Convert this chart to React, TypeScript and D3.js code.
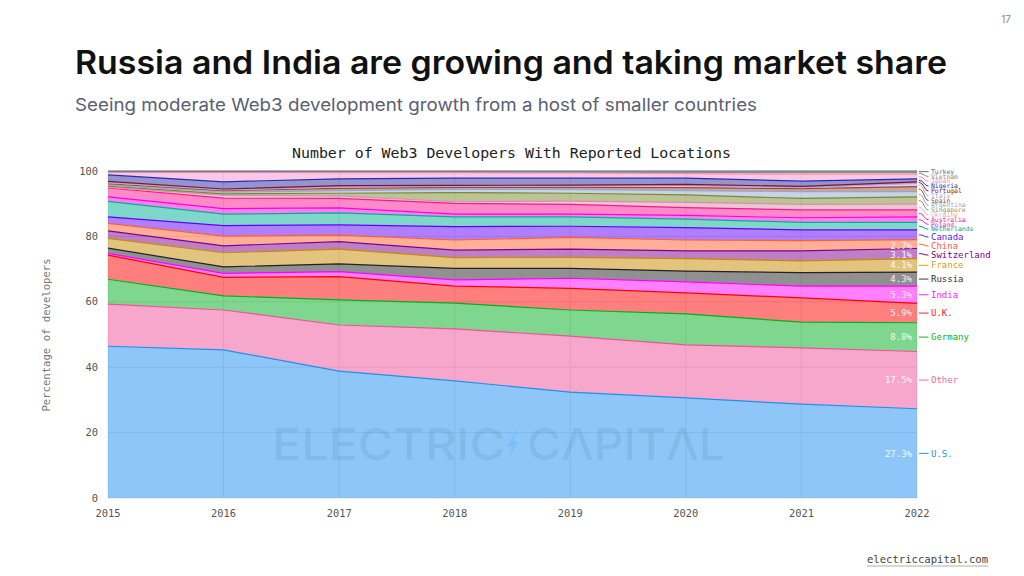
import React from 'react';
import * as d3 from 'd3';

const years = [2015, 2016, 2017, 2018, 2019, 2020, 2021, 2022];
const countries = ['U.S.', 'Other', 'Germany', 'U.K.', 'India', 'Russia', 'France', 'Switzerland', 'China', 'Canada', 'Netherlands', 'Poland', 'Australia', 'Ukraine', 'Singapore', 'Argentina', 'Spain', 'Italy', 'Portugal', 'Nigeria', 'Japan', 'Vietnam', 'Turkey'];

const us = [46.4, 45.3, 38.8, 35.8, 32.4, 30.6, 28.7, 27.3];
const other = [12.9, 12.2, 14.1, 15.9, 17.1, 16.2, 17.2, 17.5];
const germany = [7.6, 4.3, 7.7, 7.9, 8.0, 9.5, 7.9, 8.8];
const uk = [7.4, 5.7, 7.1, 5.2, 6.6, 6.4, 7.4, 5.9];
const india = [0.5, 1.2, 1.5, 1.9, 3.1, 3.4, 3.6, 5.3];
const russia = [1.6, 2.0, 2.4, 3.5, 3.0, 3.3, 4.1, 4.3];
const france = [3.0, 4.3, 4.5, 3.3, 3.4, 3.8, 3.6, 4.1];
const switzerland = [2.3, 2.1, 2.3, 2.3, 2.5, 2.4, 3.1, 3.1];
const china = [2.3, 3.0, 2.0, 3.1, 3.6, 3.3, 3.1, 2.7];
const canada = [2.0, 3.2, 3.1, 4.1, 3.4, 3.8, 3.3, 3.0];
const netherlands = [4.7, 3.5, 3.7, 3.0, 2.9, 2.6, 2.3, 2.3];
const poland = [1.4, 1.7, 1.5, 0.8, 0.8, 1.1, 1.4, 1.7];
const australia = [2.7, 3.2, 2.9, 3.3, 3.0, 2.4, 2.4, 2.1];
const ukraine = [0.2, 0.9, 0.8, 0.5, 1.0, 1.6, 1.7, 1.8];
const singapore = [0.4, 0.4, 0.8, 2.8, 2.4, 2.3, 1.8, 2.2];
const argentina = [0.3, 0.5, 0.8, 1.0, 1.2, 1.3, 2.1, 1.6];
const spain = [0.4, 0.5, 0.7, 0.6, 0.6, 0.9, 0.9, 1.5];
const italy = [0.3, 0.2, 0.4, 0.3, 0.4, 0.6, 0.3, 1.0];
const portugal = [0.4, 0.3, 0.4, 0.3, 0.3, 0.4, 0.4, 0.5];
const nigeria = [2.0, 2.2, 2.1, 2.2, 2.1, 1.9, 1.6, 0.9];
const japan = [0.8, 2.9, 1.9, 1.7, 1.6, 1.4, 2.1, 1.4];
const vietnam = [0.2, 0.2, 0.3, 0.3, 0.3, 0.4, 0.6, 0.6];
const turkey = [0.2, 0.2, 0.2, 0.2, 0.3, 0.4, 0.4, 0.4];

const seriesValues = [us, other, germany, uk, india, russia, france, switzerland, china, canada, netherlands, poland, australia, ukraine, singapore, argentina, spain, italy, portugal, nigeria, japan, vietnam, turkey];

const yTicks = [0, 20, 40, 60, 80, 100];

const colors = ['#1e90f0', '#f2509a', '#00b020', '#ff0000', '#ff00ff', '#222222', '#c88a00', '#800090', '#ff6030', '#6000ff', '#00b096', '#ff00e0', '#ff1493', '#d890a8', '#7a8a30', '#90a8d0', '#a04a2a', '#b8a0f8', '#801818', '#2a2aa8', '#f590d0', '#a08c60', '#5a6e90'];
const labelColors = ['#1e90f0', '#f06aa0', '#10b020', '#ff2020', '#ff20ff', '#333333', '#d4a020', '#800090', '#ff6030', '#6020ff', '#00a090', '#ff20c0', '#ff2080', '#e0a8b8', '#909068', '#90a8c8', '#a04820', '#b0a0f0', '#802020', '#3030a0', '#f090c0', '#a08868', '#5a6b8c'];

const MONO = '"DejaVu Sans Mono", "Liberation Mono", monospace';
const SANS = 'Inter, "Noto Sans", sans-serif';

export default function App() {
  const x = d3.scaleLinear().domain([2015, 2022]).range([108, 917]);
  const y = d3.scaleLinear().domain([0, 100]).range([498, 171]);

  const rows = years.map((yr, i) => {
    const r: any = { year: yr };
    countries.forEach((c, j) => { r[c] = seriesValues[j][i]; });
    return r;
  });
  const stacked = d3.stack<any>().keys(countries)(rows);

  const area = d3.area<any>()
    .x((d) => x(d.data.year))
    .y0((d) => y(d[0]))
    .y1((d) => y(d[1]));
  const line = d3.line<any>()
    .x((d) => x(d.data.year))
    .y((d) => y(d[1]));

  // label layout (top-down, avoiding overlaps)
  const last = years.length - 1;
  const mids = stacked.map((s) => y((s[last][0] + s[last][1]) / 2));
  const labelY: number[] = new Array(countries.length).fill(0);
  let prev = -Infinity;
  for (let i = countries.length - 1; i >= 0; i--) {
    const big = i <= 9;
    const prevBig = i + 1 <= 9;
    const gap = big ? (prevBig ? 9 : 7.8) : 4.8;
    const pos = Math.max(mids[i], prev + gap);
    labelY[i] = pos;
    prev = pos;
  }

  return (
    <svg width={1024} height={576} style={{ position: 'absolute', left: 0, top: 0, background: '#fff' }}>
      <rect x={0} y={0} width={1024} height={576} fill="#fff" />
      <text x={1006} y={23} fontFamily={SANS} fontSize={10} fill="#888" textAnchor="middle">17</text>
      <text x={75} y={74} fontFamily={SANS} fontWeight={600} fontSize={33} fill="#111" textLength={872} lengthAdjust="spacingAndGlyphs">Russia and India are growing and taking market share</text>
      <text x={75} y={111} fontFamily={SANS} fontWeight={400} fontSize={17.5} fill="#5a6070" textLength={682} lengthAdjust="spacingAndGlyphs">Seeing moderate Web3 development growth from a host of smaller countries</text>
      <text x={292} y={157.5} fontFamily={MONO} fontSize={14} fill="#222" textLength={439} lengthAdjust="spacingAndGlyphs">Number of Web3 Developers With Reported Locations</text>

      {/* grid */}
      <g>
        {yTicks.map((t) => (
          <line key={'gy' + t} x1={108} x2={917} y1={y(t)} y2={y(t)} stroke="#e4e4e4" strokeWidth={1} />
        ))}
        {years.map((yr) => (
          <line key={'gx' + yr} x1={x(yr)} x2={x(yr)} y1={171} y2={498} stroke="#e4e4e4" strokeWidth={1} />
        ))}
      </g>

      {/* areas */}
      <g>
        {stacked.map((s, i) => (
          <path key={'a' + i} d={area(s) || ''} fill={colors[i]} fillOpacity={0.5} />
        ))}
        {stacked.map((s, i) => (
          <path key={'l' + i} d={line(s) || ''} fill="none" stroke={colors[i]} strokeWidth={1.2} />
        ))}
      </g>

      {/* watermark */}
      <g fill="rgb(50,100,150)" fillOpacity={0.12}>
        <text x={272} y={460} fontFamily={SANS} fontWeight={500} fontSize={44} textLength={233} lengthAdjust="spacingAndGlyphs">ELECTRIC</text>
        <text x={527} y={460} fontFamily={SANS} fontWeight={500} fontSize={44} textLength={198} lengthAdjust="spacingAndGlyphs">CΛPITΛL</text>
      </g>
      <polygon points="515,431 507,447 512,447 509,458 518,441 513,441 517,431" fill="#6cc0f8" fillOpacity={0.7} />

      {/* y axis */}
      {yTicks.map((t) => (
        <text key={'yt' + t} x={98} y={y(t) + 3.6} fontFamily={MONO} fontSize={10.4} fill="#555" textAnchor="end">{t}</text>
      ))}
      <text transform="translate(50,335) rotate(-90)" fontFamily={MONO} fontSize={10.6} fill="#777" textAnchor="middle">Percentage of developers</text>

      {/* x axis */}
      {years.map((yr) => (
        <text key={'xt' + yr} x={x(yr)} y={517} fontFamily={MONO} fontSize={10.4} fill="#555" textAnchor="middle">{yr}</text>
      ))}

      {/* in-band percentages */}
      {stacked.slice(0, 9).map((s, i) => (
        <text key={'p' + i} x={912} y={labelY[i]} dy="0.35em" fontFamily={MONO} fontSize={9} fill="#fff" fillOpacity={0.92} textAnchor="end">
          {d3.format('.1f')(seriesValues[i][last]) + '%'}
        </text>
      ))}

      {/* legend labels */}
      {countries.map((c, i) => {
        const big = i <= 9;
        const m = mids[i];
        const ly = labelY[i];
        return (
          <g key={'lg' + i}>
            <path d={`M919,${m} C924,${m} 924,${ly} 928.5,${ly}`} fill="none" stroke={labelColors[i]} strokeWidth={1} />
            <text x={931} y={ly} dy="0.35em" fontFamily={MONO} fontSize={big ? 9 : 6.4} fill={labelColors[i]}>{c}</text>
          </g>
        );
      })}

      {/* footer */}
      <text x={867} y={563} fontFamily={MONO} fontSize={10.6} fill="#444" textLength={121} lengthAdjust="spacingAndGlyphs">electriccapital.com</text>
      <line x1={867} x2={988} y1={566} y2={566} stroke="#999" strokeWidth={0.8} />
    </svg>
  );
}
